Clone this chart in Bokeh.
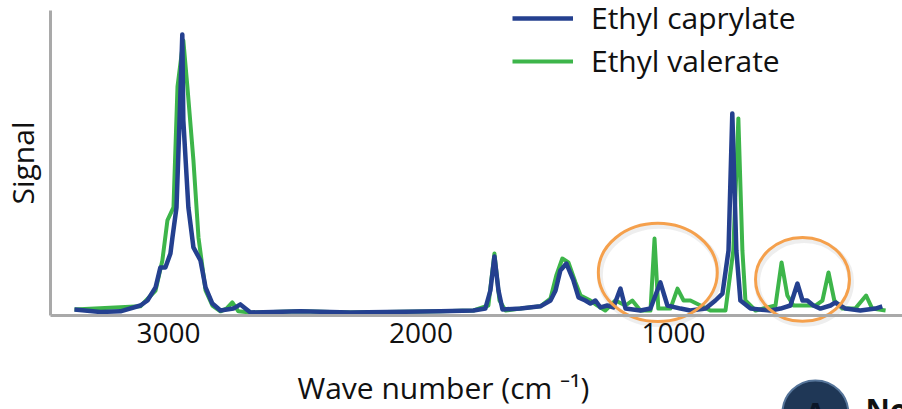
from bokeh.plotting import figure
from bokeh.models import Range1d, Legend, LegendItem, Label, FixedTicker
from bokeh.embed import file_html
from bokeh.resources import INLINE

# ---- data (wave number in cm^-1, signal in arbitrary units) ----
caprylate_wn = [3372, 3269, 3190, 3111, 3083, 3051, 3032, 3012, 2992, 2984,
                2968, 2956, 2945, 2941, 2921, 2901, 2873, 2853, 2826, 2794,
                2743, 2715, 2675, 2477, 2279, 1923, 1792, 1745, 1725, 1709,
                1693, 1677, 1606, 1527, 1487, 1467, 1448, 1424, 1396, 1376,
                1349, 1329, 1309, 1289, 1262, 1238, 1210, 1190, 1131, 1091,
                1052, 1024, 972, 933, 873, 834, 806, 782, 767, 751,
                735, 695, 616, 576, 537, 509, 489, 470, 446, 418,
                378, 359, 319, 260, 200, 173]
caprylate_signal = [1.1, 0.2, 0.4, 2.5, 4.3, 9.0, 16.2, 16.2, 21.2, 27.0,
                    37.8, 69.1, 100, 69.1, 37.8, 23.4, 18.7, 9.0, 3.2, 0.7,
                    1.4, 2.9, 0.0, 0.4, 0.0, 0.4, 0.7, 1.4, 7.9, 20.1,
                    7.9, 1.1, 1.4, 2.2, 4.3, 7.9, 15.1, 17.6, 11.5, 5.4,
                    4.3, 3.2, 4.3, 1.8, 2.5, 1.8, 8.6, 1.4, 0.7, 1.4,
                    10.8, 2.5, 1.4, 0.7, 1.4, 4.3, 6.8, 22.3, 71.6, 22.3,
                    4.3, 1.4, 0.7, 1.4, 2.5, 10.4, 4.3, 4.3, 2.5, 1.4,
                    2.5, 3.6, 1.4, 0.7, 1.4, 2.2]

valerate_wn = [3372, 3111, 3051, 3024, 3004, 2980, 2964, 2941, 2925, 2901,
               2881, 2853, 2826, 2794, 2770, 2747, 2723, 2675, 2477, 2279,
               1923, 1792, 1733, 1709, 1689, 1665, 1606, 1527, 1487, 1464,
               1440, 1416, 1388, 1368, 1329, 1301, 1270, 1230, 1190, 1163,
               1131, 1091, 1075, 1060, 1012, 984, 960, 933, 893, 854,
               794, 763, 743, 727, 715, 675, 596, 572, 549, 525,
               438, 410, 386, 363, 331, 280, 237, 213, 160]
valerate_signal = [1.1, 2.2, 7.9, 18.7, 33.1, 37.8, 81.3, 97.8, 81.3, 54.7,
                   27.0, 7.9, 2.5, 0.4, 1.4, 3.6, 0.4, 0.0, 0.4, 0.0,
                   0.4, 0.7, 2.5, 21.2, 4.3, 0.7, 1.4, 2.2, 5.0, 13.3,
                   19.4, 18.0, 10.8, 6.1, 4.3, 2.5, 0.7, 4.3, 2.5, 4.3,
                   0.7, 0.7, 26.6, 1.4, 1.4, 8.6, 4.3, 4.3, 2.5, 0.7,
                   0.7, 22.3, 69.8, 22.3, 4.3, 0.7, 2.5, 18.0, 6.1, 2.5,
                   2.5, 4.3, 14.4, 4.3, 1.4, 1.4, 6.1, 1.4, 0.7]

series_names = ["Ethyl caprylate", "Ethyl valerate"]
tick_values = [3000, 2000, 1000]
x_title = "Wave number (cm \u207b\u00b9)"
y_title = "Signal"

# highlighted regions (orange ellipses): centre, width, height in data units
highlight_wn = [1062, 489]
highlight_signal = [14.4, 11.9]
highlight_width = [471, 372]
highlight_height = [35.3, 30.2]

FONT = "Open Sans"
BLUE = "#24408f"
GREEN = "#3db54a"
ORANGE = "#f5a04c"
AXIS = "#a9a9a9"
TEXT = "#111111"

# axis extents (data units)
X_AXIS_AT = -1.08      # signal level of the horizontal axis line
Y_AXIS_AT = 3467       # wave number of the vertical axis line
Y_TOP = 108.6

p = figure(width=902, height=409, output_backend="svg", toolbar_location=None,
           x_range=Range1d(3665, 93), y_range=Range1d(-34.9, 112.2),
           min_border=0)
p.outline_line_color = None
p.grid.visible = False
p.background_fill_color = "white"
p.border_fill_color = "white"

g = p.line(valerate_wn, valerate_signal, line_color=GREEN, line_width=4,
           line_join="round")
b = p.line(caprylate_wn, caprylate_signal, line_color=BLUE, line_width=4.5,
           line_join="round")

# soft shadow then orange ellipses
p.ellipse(x=[w - 6 for w in highlight_wn], y=[s - 0.9 for s in highlight_signal],
          width=highlight_width, height=highlight_height, fill_color=None,
          line_color="#777777", line_alpha=0.12, line_width=6)
p.ellipse(x=highlight_wn, y=highlight_signal, width=highlight_width,
          height=highlight_height, fill_color=None, line_color=ORANGE,
          line_width=3)

xa = p.xaxis[0]
xa.fixed_location = X_AXIS_AT
xa.bounds = (93, Y_AXIS_AT)
xa.ticker = FixedTicker(ticks=tick_values)
xa.axis_line_color = AXIS
xa.axis_line_width = 3
xa.major_tick_line_color = None
xa.minor_tick_line_color = None
xa.major_tick_out = 0
xa.major_tick_in = 0
xa.major_label_text_font = FONT
xa.major_label_text_font_size = "28px"
xa.major_label_text_color = TEXT
xa.major_label_standoff = 8

ya = p.yaxis[0]
ya.fixed_location = Y_AXIS_AT
ya.bounds = (X_AXIS_AT, Y_TOP)
ya.ticker = FixedTicker(ticks=[])
ya.axis_line_color = AXIS
ya.axis_line_width = 3
ya.major_tick_line_color = None
ya.minor_tick_line_color = None
ya.major_tick_out = 0
ya.major_tick_in = 0
ya.major_label_text_font_size = "0px"
ya.axis_label = y_title
ya.axis_label_text_font = FONT
ya.axis_label_text_font_size = "30px"
ya.axis_label_text_font_style = "normal"
ya.axis_label_text_color = TEXT
ya.axis_label_standoff = 8

p.add_layout(Label(x=1911, y=-27.0, text=x_title, text_font=FONT,
                   text_font_size="30px", text_color=TEXT, text_align="center",
                   text_baseline="alphabetic"))

# cropped badge at the bottom right
p.scatter(x=[438], y=[-36.3], size=66, marker="circle",
          fill_color="#1f3756", line_color="#56759a", line_width=2)
p.add_layout(Label(x=438, y=-36.3, text="A", text_font=FONT,
                   text_font_size="30px", text_font_style="bold",
                   text_color="#0b1628", text_align="center",
                   text_baseline="middle"))
p.add_layout(Label(x=240, y=-34.9, text="No", text_font=FONT,
                   text_font_size="30px", text_font_style="bold",
                   text_color=TEXT, text_align="left",
                   text_baseline="alphabetic"))

legend = Legend(items=[LegendItem(label=series_names[0], renderers=[b]),
                       LegendItem(label=series_names[1], renderers=[g])],
                location=(512, 328), orientation="vertical",
                glyph_width=61, glyph_height=36, label_height=36,
                label_standoff=18, spacing=2, padding=0, margin=0,
                border_line_color=None, background_fill_alpha=0,
                label_text_font=FONT, label_text_font_size="30px",
                label_text_color=TEXT)
p.add_layout(legend)

open("out.html", "w").write(file_html(p, INLINE))
